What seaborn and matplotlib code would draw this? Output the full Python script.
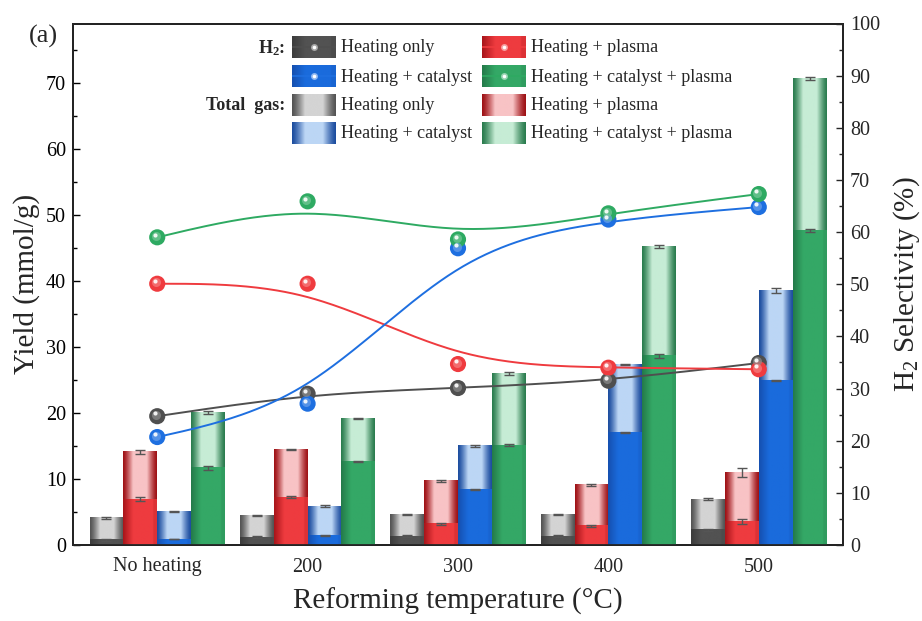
import numpy as np
import pandas as pd
import matplotlib
matplotlib.use("Agg")
import matplotlib.pyplot as plt
from matplotlib.colors import to_rgb
from matplotlib.ticker import MultipleLocator
from matplotlib.transforms import ScaledTranslation
import seaborn as sns

# ---------------- data ----------------
temperatures = ["No heating", "200", "300", "400", "500"]
conditions = ["Heating only", "Heating + plasma", "Heating + catalyst",
              "Heating + catalyst + plasma"]

# H2 yield (mmol/g)
h2_only = [0.8, 1.2, 1.3, 1.35, 2.3]
h2_plasma = [6.9, 7.2, 3.2, 2.9, 3.6]
h2_catalyst = [0.9, 1.4, 8.45, 17.0, 24.9]
h2_cat_plasma = [11.7, 12.6, 15.1, 28.7, 47.6]

# H2 yield error
h2_only_err = [0.15, 0.15, 0.15, 0.1, 0.15]
h2_plasma_err = [0.3, 0.15, 0.15, 0.15, 0.35]
h2_catalyst_err = [0.05, 0.1, 0.1, 0.1, 0.1]
h2_cat_plasma_err = [0.3, 0.1, 0.15, 0.3, 0.2]

# Total gas yield (mmol/g)
tot_only = [4.1, 4.5, 4.6, 4.65, 6.9]
tot_plasma = [14.1, 14.5, 9.7, 9.1, 11.0]
tot_catalyst = [5.1, 5.9, 15.0, 27.3, 38.6]
tot_cat_plasma = [20.1, 19.2, 26.0, 45.2, 70.7]

# Total gas yield error
tot_only_err = [0.15, 0.1, 0.1, 0.1, 0.15]
tot_plasma_err = [0.3, 0.1, 0.15, 0.15, 0.7]
tot_catalyst_err = [0.1, 0.1, 0.1, 0.1, 0.4]
tot_cat_plasma_err = [0.25, 0.1, 0.25, 0.2, 0.2]

# H2 selectivity (%)
sel_only = [24.7, 29.0, 30.1, 31.5, 34.9]
sel_plasma = [50.1, 50.1, 34.7, 34.0, 33.7]
sel_catalyst = [20.7, 27.1, 56.9, 62.4, 64.8]
sel_cat_plasma = [59.0, 65.9, 58.6, 63.6, 67.3]

h2_sets = [h2_only, h2_plasma, h2_catalyst, h2_cat_plasma]
h2_errs = [h2_only_err, h2_plasma_err, h2_catalyst_err, h2_cat_plasma_err]
tot_sets = [tot_only, tot_plasma, tot_catalyst, tot_cat_plasma]
tot_errs = [tot_only_err, tot_plasma_err, tot_catalyst_err, tot_cat_plasma_err]
sel_sets = [sel_only, sel_plasma, sel_catalyst, sel_cat_plasma]

# ---------------- styling ----------------
styles = {
    "Heating only": dict(h2_edge="#3c3c3c", h2_main="#525252",
                         tot_edge="#545454", tot_center="#d4d4d4", line="#4f4f4f"),
    "Heating + plasma": dict(h2_edge="#a8151a", h2_main="#ee3b3f",
                             tot_edge="#9e1115", tot_center="#f8c3c5", line="#ef3b3f"),
    "Heating + catalyst": dict(h2_edge="#1550b0", h2_main="#1a6bdc",
                               tot_edge="#1c4d9f", tot_center="#bcd6f5", line="#1e6fe0"),
    "Heating + catalyst + plasma": dict(h2_edge="#247a4a", h2_main="#34a866",
                                        tot_edge="#2a7c4e", tot_center="#c6ecd5", line="#2eaa62"),
}

sns.set_style("ticks")
plt.rcParams["font.family"] = ["Liberation Serif", "DejaVu Serif"]
plt.rcParams["mathtext.fontset"] = "custom"
plt.rcParams["mathtext.rm"] = "Liberation Serif"
plt.rcParams["mathtext.it"] = "Liberation Serif:italic"
plt.rcParams["mathtext.bf"] = "Liberation Serif:bold"


def total_gradient(edge, center, n=64):
    t = np.linspace(0, 1, n)
    f = np.clip((1 - np.abs(2 * t - 1)) * 1.7, 0, 1)
    f = f ** 1.3
    e, c = np.array(to_rgb(edge)), np.array(to_rgb(center))
    return (e[None, :] + (c - e)[None, :] * f[:, None])[None, :, :]


def h2_gradient(edge, main, n=64):
    t = np.linspace(0, 1, n)
    f = np.minimum(np.clip(t / 0.3, 0, 1), np.clip((1 - t) / 0.12, 0.75, 1))
    e, c = np.array(to_rgb(edge)), np.array(to_rgb(main))
    return (e[None, :] + (c - e)[None, :] * f[:, None])[None, :, :]


def bspline(xs, ys, n=60):
    """Uniform cubic B-spline through the end points, using the data as control points."""
    P = np.column_stack([xs, ys]).astype(float)
    P = np.vstack([2 * P[0] - P[1], P, 2 * P[-1] - P[-2]])
    out = []
    for i in range(1, len(P) - 2):
        t = np.linspace(0, 1, n)
        b0 = (1 - t) ** 3 / 6
        b1 = (3 * t ** 3 - 6 * t ** 2 + 4) / 6
        b2 = (-3 * t ** 3 + 3 * t ** 2 + 3 * t + 1) / 6
        b3 = t ** 3 / 6
        seg = (b0[:, None] * P[i - 1] + b1[:, None] * P[i]
               + b2[:, None] * P[i + 1] + b3[:, None] * P[i + 2])
        out.append(seg)
    return np.vstack(out)


# ---------------- figure ----------------
fig = plt.figure(figsize=(9.22, 6.21), dpi=100)
ax = fig.add_axes([73 / 922, 1 - 545 / 621, (843 - 73) / 922, (545 - 23.5) / 621])

rows = []
for cond, h2, h2e, tot, tote in zip(conditions, h2_sets, h2_errs, tot_sets, tot_errs):
    for temp, a, ae, b, be in zip(temperatures, h2, h2e, tot, tote):
        rows.append(dict(temp=temp, cond=cond, h2=a, h2_err=ae, total=b, total_err=be))
df = pd.DataFrame(rows)

pal_tot = {c: styles[c]["tot_edge"] for c in conditions}
pal_h2 = {c: styles[c]["h2_main"] for c in conditions}

sns.barplot(data=df, x="temp", y="total", hue="cond", order=temperatures,
            hue_order=conditions, palette=pal_tot, width=0.9, errorbar=None,
            saturation=1, legend=False, ax=ax, linewidth=0, zorder=1)
sns.barplot(data=df, x="temp", y="h2", hue="cond", order=temperatures,
            hue_order=conditions, palette=pal_h2, width=0.9, errorbar=None,
            saturation=1, legend=False, ax=ax, linewidth=0, zorder=3)

# gradient fills + error bars
for k, cond in enumerate(conditions):
    st = styles[cond]
    tot_cont = ax.containers[k]
    h2_cont = ax.containers[4 + k]
    tot_img = total_gradient(st["tot_edge"], st["tot_center"])
    h2_img = h2_gradient(st["h2_edge"], st["h2_main"])
    sub = df[df["cond"] == cond].set_index("temp").loc[temperatures]
    for j, (pt, ph) in enumerate(zip(tot_cont.patches, h2_cont.patches)):
        x0, w = pt.get_x(), pt.get_width()
        ax.imshow(tot_img, extent=(x0, x0 + w, 0, pt.get_height()), aspect="auto",
                  interpolation="bilinear", zorder=2)
        ax.imshow(h2_img, extent=(x0, x0 + w, 0, ph.get_height()), aspect="auto",
                  interpolation="bilinear", zorder=4)
        xc = x0 + w / 2
        ax.errorbar([xc, xc], [sub["total"].iloc[j], sub["h2"].iloc[j]],
                    yerr=[sub["total_err"].iloc[j], sub["h2_err"].iloc[j]],
                    fmt="none", ecolor="#555555", elinewidth=1.0, capsize=3.5,
                    capthick=1.0, zorder=5)

ax.set_xlim(-0.56, 4.56)
ax.set_ylim(0, 79)
ax.yaxis.set_major_locator(MultipleLocator(10))
ax.yaxis.set_minor_locator(MultipleLocator(5))
ax.tick_params(axis="y", which="both", direction="in", labelsize=14.5, pad=5,
               width=1.0, colors="black")
ax.tick_params(axis="y", which="major", length=5)
ax.tick_params(axis="y", which="minor", length=3)
ax.tick_params(axis="x", length=0, labelsize=14.5, pad=9)
ax.set_xlabel("Reforming temperature (°C)", fontsize=21, labelpad=8)
ax.set_ylabel("Yield (mmol/g)", fontsize=21, labelpad=4)
for s in ax.spines.values():
    s.set_linewidth(1.3)
    s.set_color("black")

# selectivity on the secondary axis
ax2 = ax.twinx()
ax2.set_ylim(0, 100)
ax2.yaxis.set_major_locator(MultipleLocator(10))
ax2.yaxis.set_minor_locator(MultipleLocator(5))
ax2.tick_params(axis="y", which="both", direction="in", labelsize=14.5, pad=5, width=1.0)
ax2.tick_params(axis="y", which="major", length=5)
ax2.tick_params(axis="y", which="minor", length=3)
ax2.set_ylabel(r"H$_\mathrm{2}$ Selectivity (%)", fontsize=21, labelpad=8)
for s in ax2.spines.values():
    s.set_linewidth(1.3)

xpos = np.arange(len(temperatures))
hl_shift = ScaledTranslation(-1.8 / 72, 2.0 / 72, fig.dpi_scale_trans)
for cond, sel in zip(conditions, sel_sets):
    st = styles[cond]
    curve = bspline(xpos, sel)
    ax2.plot(curve[:, 0], curve[:, 1], color=st["line"], lw=1.4, zorder=3)
    sns.scatterplot(x=xpos, y=sel, ax=ax2, s=135, color=st["line"],
                    edgecolor="none", zorder=4, legend=False)
    c = np.array(to_rgb(st["line"]))
    light = c + (1 - c) * 0.35
    ax2.plot(xpos, sel, "o", ms=6.5, color=light, mec="none", alpha=0.7, zorder=5,
             transform=ax2.transData + ScaledTranslation(-1.0 / 72, 1.1 / 72, fig.dpi_scale_trans))
    ax2.plot(xpos, sel, "o", ms=3.0, color="white", mec="none", alpha=0.9, zorder=6,
             transform=ax2.transData + hl_shift)

ax.set_xlim(-0.56, 4.56)

# ---------------- legend ----------------
def swatch(x0, yc, cond, kind):
    st = styles[cond]
    w, h = 44, 22
    sax = fig.add_axes([x0 / 922, 1 - (yc + h / 2) / 621, w / 922, h / 621])
    sax.set_xlim(0, 1)
    sax.set_ylim(0, 1)
    if kind == "h2":
        sax.imshow(h2_gradient(st["h2_edge"], st["h2_main"]), extent=(0, 1, 0, 1),
                   aspect="auto", interpolation="bilinear")
        sax.plot([0, 1], [0.5, 0.5], color=st["line"], lw=1.2)
        c = np.array(to_rgb(st["line"]))
        sax.plot([0.5], [0.5], "o", ms=5, color=c + (1 - c) * 0.5, mec="none")
        sax.plot([0.5], [0.5], "o", ms=2.6, color="white", mec="none")
    else:
        sax.imshow(total_gradient(st["tot_edge"], st["tot_center"]), extent=(0, 1, 0, 1),
                   aspect="auto", interpolation="bilinear")
    sax.axis("off")
    fig.text((x0 + w + 5) / 922, 1 - (yc + 1) / 621, cond, fontsize=13,
             ha="left", va="center")


row_y = [47, 76, 105, 133]
col_x = [292, 482]
layout = [
    [("Heating only", "h2"), ("Heating + plasma", "h2")],
    [("Heating + catalyst", "h2"), ("Heating + catalyst + plasma", "h2")],
    [("Heating only", "tot"), ("Heating + plasma", "tot")],
    [("Heating + catalyst", "tot"), ("Heating + catalyst + plasma", "tot")],
]
for yc, row in zip(row_y, layout):
    for xc, (cond, kind) in zip(col_x, row):
        swatch(xc, yc, cond, kind)

fig.text(285 / 922, 1 - 48 / 621, r"H$_\mathbf{2}$:", fontsize=13, fontweight="bold",
         ha="right", va="center")
fig.text(285 / 922, 1 - 106 / 621, "Total  gas:", fontsize=13, fontweight="bold",
         ha="right", va="center")

fig.text(29 / 922, 1 - 36 / 621, "(a)", fontsize=19, ha="left", va="center")

fig.savefig("out.png", dpi=100)
